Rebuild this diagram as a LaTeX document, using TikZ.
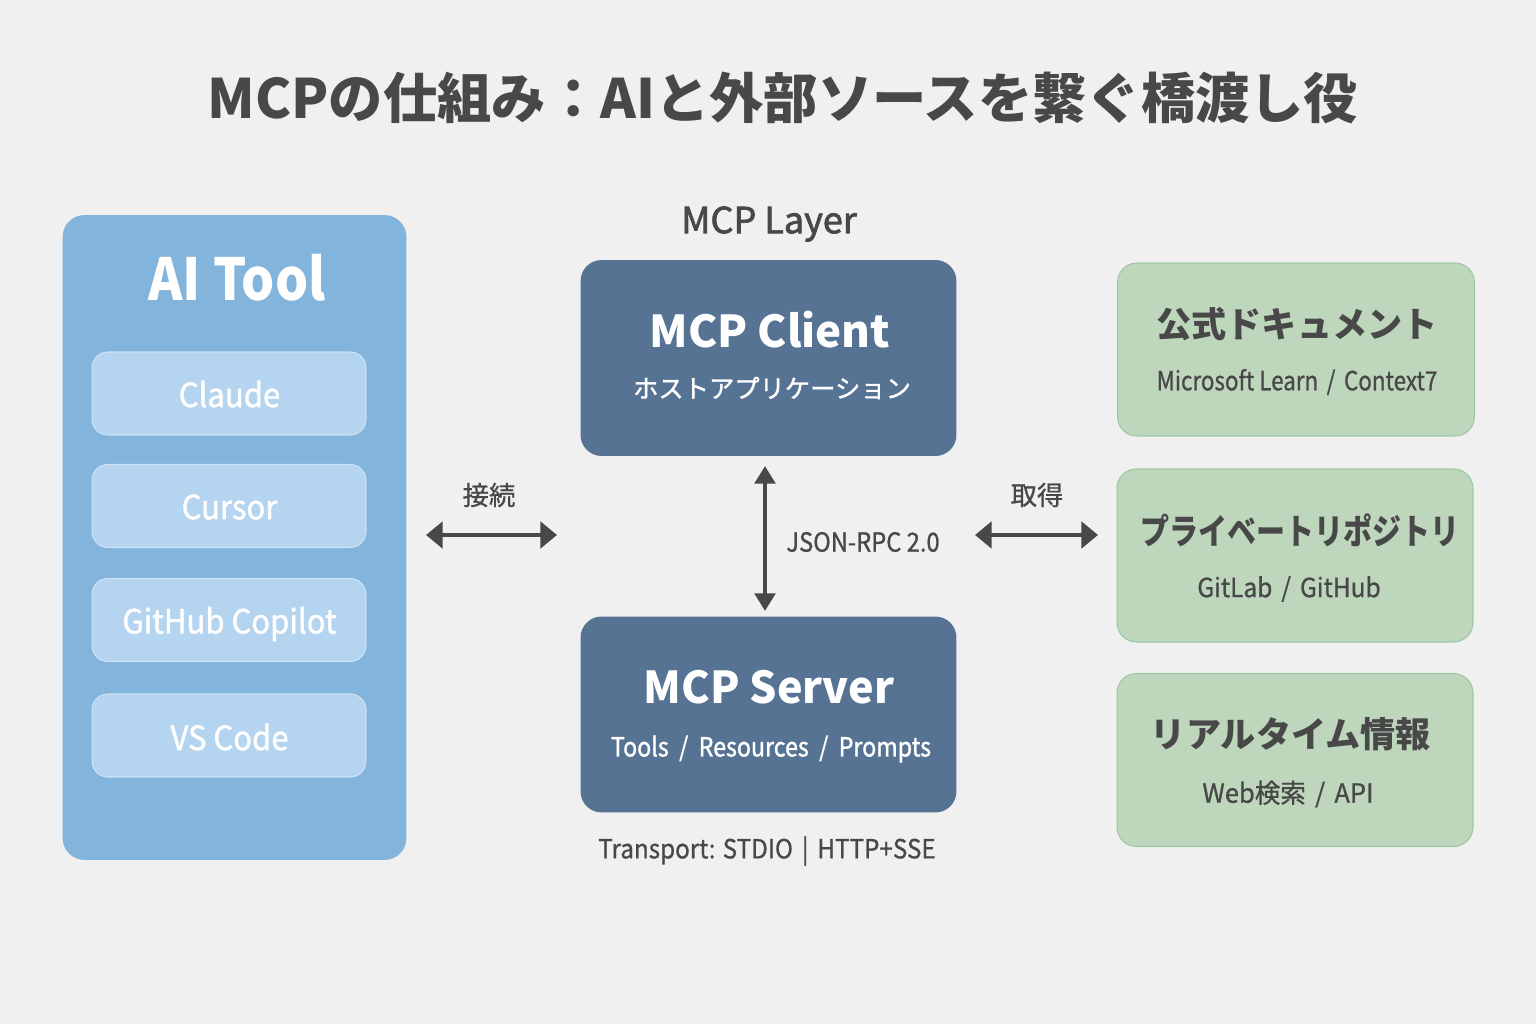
\documentclass[tikz,border=0pt]{standalone}
\usepackage{fontspec}
\setmainfont{Noto Sans CJK JP}
\usetikzlibrary{arrows.meta}
\definecolor{bgcol}{HTML}{F0F0F0}
\definecolor{inkcol}{HTML}{484848}
\definecolor{aicol}{HTML}{82B4DC}
\definecolor{itemcol}{HTML}{B5D4EF}
\definecolor{itemline}{HTML}{CDE2F4}
\definecolor{mcpcol}{HTML}{567394}
\definecolor{srccol}{HTML}{BDD6BC}
\definecolor{srcline}{HTML}{9FC6A3}
\newcommand{\squeeze}[2]{\addfontfeature{FakeStretch=#1,FakeBold=#2}}
\tikzset{
  panel/.style={rounded corners=12.5pt,fill=aicol,draw=none},
  itembox/.style={rounded corners=9pt,fill=itemcol,draw=itemline,line width=0.6pt},
  mcpbox/.style={rounded corners=12pt,fill=mcpcol,draw=none},
  srcbox/.style={rounded corners=11pt,fill=srccol,draw=srcline,line width=0.6pt},
  itemtext/.style={text=white,font=\fontsize{19}{22}\selectfont\squeeze{0.93}{1.2}},
  headtext/.style={text=white,font=\fontsize{25}{30}\selectfont\bfseries},
  subtext/.style={text=white,font=\fontsize{15}{18}\selectfont\squeeze{0.94}{1.2}},
  srchead/.style={text=inkcol,font=\fontsize{20}{24}\selectfont\bfseries},
  srcsub/.style={text=inkcol,font=\fontsize{15}{18}\selectfont},
  note/.style={text=inkcol,font=\fontsize{15}{18}\selectfont},
  both/.style={draw=inkcol,line width=2.6pt,{Triangle[length=9.5pt,width=15pt]}-{Triangle[length=9.5pt,width=15pt]}},
  bothv/.style={draw=inkcol,line width=2.6pt,{Triangle[length=10pt,width=11.5pt]}-{Triangle[length=10pt,width=11.5pt]}}
}
\begin{document}
\begin{tikzpicture}[x=0.02cm,y=-0.02cm]
  \fill[bgcol] (0,0) rectangle (1536,1024);
  \useasboundingbox (0,0) rectangle (1536,1024);

  \node[text=inkcol,font=\fontsize{30.9}{38}\selectfont\bfseries] (title) at (783,98) {MCPの仕組み：AIと外部ソースを繋ぐ橋渡し役};

  % left panel
  \node[panel,minimum width=6.88cm,minimum height=12.9cm,inner sep=0] (aitool) at (234.5,537.5) {};
  \node[headtext,font=\fontsize{33}{38}\selectfont\bfseries\squeeze{0.9}{0}] (aititle) at (237,278) {AI Tool};
  \foreach \name/\txt/\ypos/\ytxt in {claude/Claude/393.5/394,cursor/Cursor/506/507,copilot/GitHub Copilot/620/624,vscode/VS Code/735.5/737}{
    \node[itembox,minimum width=5.48cm,minimum height=1.66cm,inner sep=0] (\name) at (229,\ypos) {};
    \node[itemtext] (\name text) at (229.5,\ytxt) {\txt};
  }

  % middle
  \node[note,font=\fontsize{20.5}{24}\selectfont\squeeze{1}{2}] (layer) at (769,224) {MCP Layer};
  \node[mcpbox,minimum width=7.52cm,minimum height=3.92cm,inner sep=0] (client) at (768.5,358) {};
  \node[headtext] (clienttitle) at (770,330) {MCP Client};
  \node[subtext,font=\fontsize{14.4}{18}\selectfont\squeeze{1}{1.2}] (clientsub) at (772,388) {ホストアプリケーション};
  \node[mcpbox,minimum width=7.52cm,minimum height=3.92cm,inner sep=0] (server) at (768.5,714.5) {};
  \node[headtext,font=\fontsize{25}{30}\selectfont\bfseries\squeeze{0.98}{0}] (servertitle) at (769,687) {MCP Server};
  \node[subtext,font=\fontsize{15}{18}\selectfont\squeeze{0.88}{1.2}] (serversub) at (771,749) {Tools\hspace{3pt} / \hspace{3pt}Resources\hspace{3pt} / \hspace{3pt}Prompts};
  \node[note,font=\fontsize{15}{18}\selectfont\squeeze{0.92}{0.8}] (transport) at (767,851) {Transport: STDIO\hspace{2pt} | \hspace{2pt}HTTP+SSE};

  % right
  \node[srcbox,minimum width=7.14cm,minimum height=3.46cm,inner sep=0] (docs) at (1296,349.5) {};
  \node[srchead] (docstitle) at (1297,324) {公式ドキュメント};
  \node[srcsub,font=\fontsize{15}{18}\selectfont\squeeze{0.85}{0.8}] (docssub) at (1297,382) {Microsoft Learn\hspace{2pt} / \hspace{2pt}Context7};
  \node[srcbox,minimum width=7.12cm,minimum height=3.46cm,inner sep=0] (repo) at (1295,555.5) {};
  \node[srchead,font=\fontsize{20}{24}\selectfont\bfseries\squeeze{0.825}{0}] (repotitle) at (1300,530) {プライベートリポジトリ};
  \node[srcsub,font=\fontsize{15}{18}\selectfont\squeeze{0.93}{0.8}] (reposub) at (1289,589) {GitLab\hspace{2pt} / \hspace{2pt}GitHub};
  \node[srcbox,minimum width=7.12cm,minimum height=3.46cm,inner sep=0] (live) at (1295,760) {};
  \node[srchead] (livetitle) at (1291,734) {リアルタイム情報};
  \node[srcsub,font=\fontsize{15}{18}\selectfont\squeeze{0.97}{0.8}] (livesub) at (1288,794) {Web検索\hspace{2pt} / \hspace{2pt}API};

  % arrows
  \coordinate (leftA) at (426,535);
  \coordinate (leftB) at (557,535);
  \coordinate (rightA) at (975,535);
  \coordinate (rightB) at (1098,535);
  \coordinate (midA) at (765,466);
  \coordinate (midB) at (765,611);
  \draw[both] (leftA) -- (leftB);
  \draw[both] (rightA) -- (rightB);
  \draw[bothv] (midA) -- (midB);
  \node[note,font=\fontsize{15}{18}\selectfont\squeeze{1}{0.8}] (linklabel) at (489,495) {接続};
  \node[note,font=\fontsize{15}{18}\selectfont\squeeze{1}{0.8}] (fetchlabel) at (1037,495) {取得};
  \node[note,font=\fontsize{15}{18}\selectfont\squeeze{0.9}{0.8}] (rpclabel) at (863,542) {JSON-RPC 2.0};
\end{tikzpicture}
\end{document}
